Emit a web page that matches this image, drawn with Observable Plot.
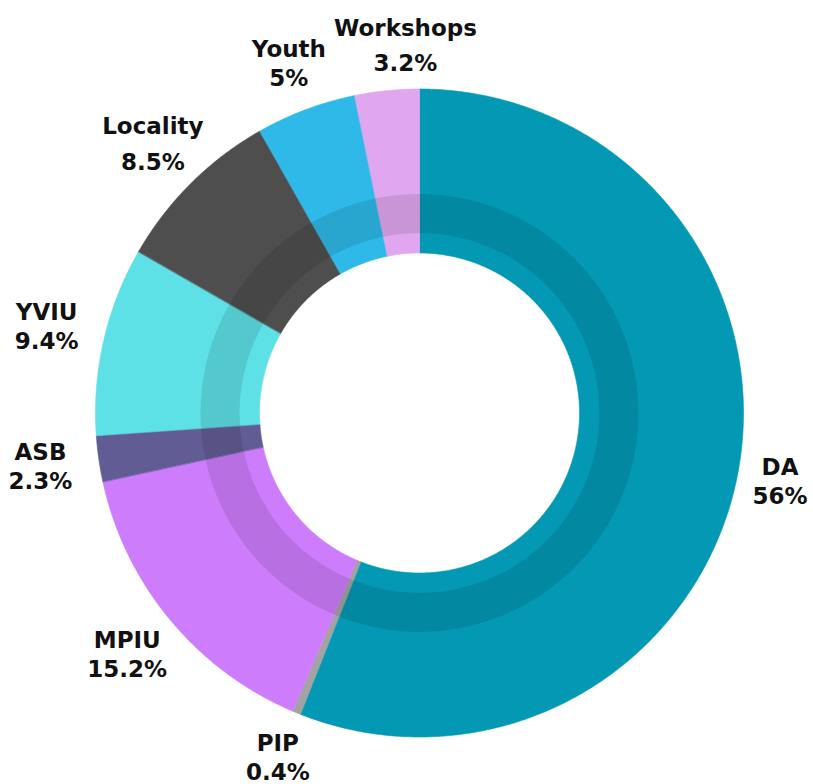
<!DOCTYPE html>
<html><head><meta charset="utf-8">
<script src="https://cdn.jsdelivr.net/npm/d3@7"></script>
<script src="https://cdn.jsdelivr.net/npm/@observablehq/plot@0.6"></script>
<style>body{margin:0;background:#fff;}</style>
</head><body><div id="chart"></div>
<script>
// ---- data ----
const categories = ["DA","PIP","MPIU","ASB","YVIU","Locality","Youth","Workshops"];
const shares = [56, 0.4, 15.2, 2.3, 9.4, 8.5, 5, 3.2];
const shareLabels = ["56%","0.4%","15.2%","2.3%","9.4%","8.5%","5%","3.2%"];
const palette = ["#0399B4","#A3A3A3","#CD7CFB","#625C95","#5DE0E6","#4E4E4E","#2EB9E8","#E0A6F0"];

// ---- layout ----
const W = 813, H = 784, cx = 419, cy = 412.5;
const R = 324, r = 160, bandIn = 180, bandOut = 219;
const labelR = 367, labelRLeft = 16, fontSize = 23, baseGap = 29, pad = 8;

const total = d3.sum(shares);
let cum = 0;
const slices = categories.map((c, i) => {
  const a0 = cum / total * 2 * Math.PI; cum += shares[i];
  const a1 = cum / total * 2 * Math.PI;
  return {c, i, a0, a1, mid: (a0 + a1) / 2};
});

function ring(a0, a1, rIn, rOut, key) {
  const n = Math.max(2, Math.ceil((a1 - a0) / (Math.PI / 180) * 2));
  const pts = [];
  for (let k = 0; k <= n; k++) { const a = a0 + (a1 - a0) * k / n; pts.push({key, x: rOut * Math.sin(a), y: -rOut * Math.cos(a)}); }
  for (let k = n; k >= 0; k--) { const a = a0 + (a1 - a0) * k / n; pts.push({key, x: rIn * Math.sin(a), y: -rIn * Math.cos(a)}); }
  return pts;
}
const slicePts = slices.flatMap(s => ring(s.a0, s.a1, r, R, s.c));

// labels: block centred on the slice's mid-angle ray
const ctx = document.createElement("canvas").getContext("2d");
ctx.font = `bold ${fontSize}px "DejaVu Sans"`;
const labels = slices.map(s => {
  const name = s.c, val = shareLabels[s.i];
  const mName = ctx.measureText(name);
  const w = Math.max(mName.width, ctx.measureText(val).width);
  const gap = baseGap + 1.3 * Math.max(0, mName.actualBoundingBoxDescent || 0);
  const h = gap + fontSize * 0.75;
  const ux = Math.sin(s.mid), uy = -Math.cos(s.mid);
  const rr = labelR + labelRLeft * Math.max(0, -ux);
  return {name, val, x: rr * ux, y: rr * uy, w, h, gap};
});
for (let j = 0; j < labels.length; j++) for (let i = 0; i < j; i++) {
  const a = labels[i], b = labels[j];
  const ox = (a.w + b.w) / 2 + pad - Math.abs(a.x - b.x);
  const oy = (a.h + b.h) / 2 - Math.abs(a.y - b.y);
  if (ox > 0 && oy > 0) b.x += Math.sign(b.x - a.x || 1) * ox;
}
const labelLines = labels.flatMap(l => [
  {x: l.x, y: l.y - l.gap / 2, text: l.name},
  {x: l.x, y: l.y + l.gap / 2, text: l.val}
]);

const chart = Plot.plot({
  width: W, height: H,
  margin: 0,
  x: {domain: [-cx, W - cx], range: [0, W], axis: null},
  y: {domain: [-cy, H - cy], range: [0, H], axis: null},
  color: {domain: categories, range: palette},
  marks: [
    Plot.line(slicePts, {x: "x", y: "y", z: "key", fill: "key", stroke: "key", strokeWidth: 0.6, curve: "linear-closed"}),
    Plot.dot([0], {x: 0, y: 0, r: (bandIn + bandOut) / 2, fill: "none", stroke: "#000", strokeOpacity: 0.1, strokeWidth: bandOut - bandIn}),
    Plot.text(labelLines, {x: "x", y: "y", text: "text", fontSize, fontWeight: "bold", fontFamily: "DejaVu Sans", fill: "#111"})
  ]
});
document.getElementById("chart").appendChild(chart);
</script>
</body></html>
